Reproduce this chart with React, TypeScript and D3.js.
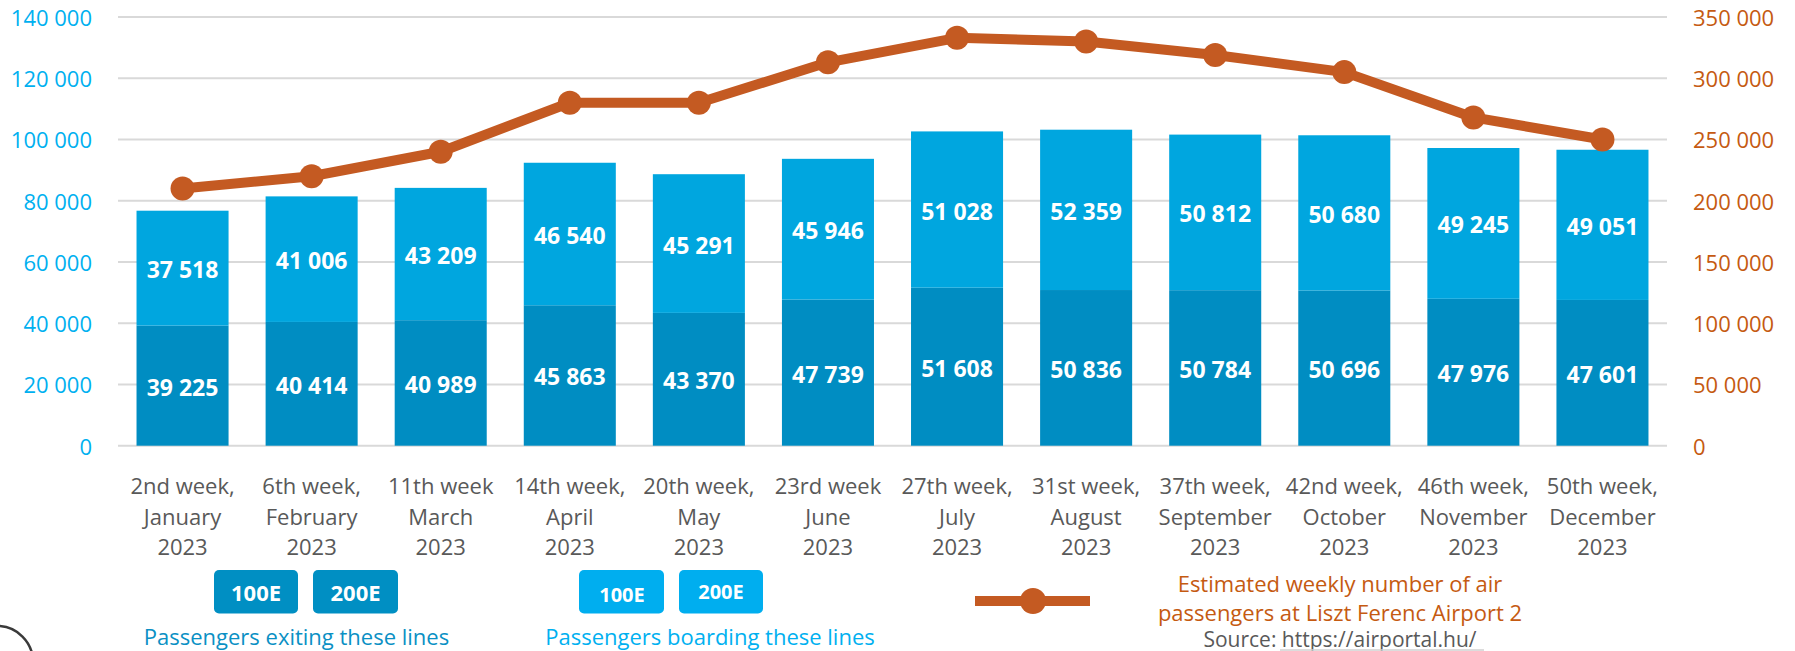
import React from "react";
import * as d3 from "d3";

const weekLabels = [
  ["2nd week,", "January", "2023"],
  ["6th week,", "February", "2023"],
  ["11th week", "March", "2023"],
  ["14th week,", "April", "2023"],
  ["20th week,", "May", "2023"],
  ["23rd week", "June", "2023"],
  ["27th week,", "July", "2023"],
  ["31st week,", "August", "2023"],
  ["37th week,", "September", "2023"],
  ["42nd week,", "October", "2023"],
  ["46th week,", "November", "2023"],
  ["50th week,", "December", "2023"],
];
const categories = weekLabels.map((l) => l[0] + " " + l[1]);
const exiting = [39225, 40414, 40989, 45863, 43370, 47739, 51608, 50836, 50784, 50696, 47976, 47601];
const boarding = [37518, 41006, 43209, 46540, 45291, 45946, 51028, 52359, 50812, 50680, 49245, 49051];
const airport = [210000, 220000, 240000, 280000, 280000, 313000, 333000, 330000, 319000, 305000, 268000, 250000];
const leftTicks = [0, 20000, 40000, 60000, 80000, 100000, 120000, 140000];
const rightTicks = [0, 50000, 100000, 150000, 200000, 250000, 300000, 350000];

const W = 1795;
const H = 651;
const FONT = "'Open Sans', 'Noto Sans', sans-serif";
const fmt = (v: number) => d3.format(",")(v).replace(/,/g, " ");

const C_EXIT = "#008DC2";
const C_BOARD = "#00A6DF";
const C_LINE = "#C45A22";
const C_LEFT = "#00B0F0";
const C_RIGHT = "#C55A11";
const C_GRAY = "#595959";

export default function App() {
  const plotL = 118, plotR = 1667, plotT = 17, plotB = 445.7;
  const x = d3.scaleBand<string>().domain(categories).range([plotL, plotR]).paddingInner(0.287).paddingOuter(0.1435);
  const y = d3.scaleLinear().domain([0, 140000]).range([plotB, plotT]);
  const y2 = d3.scaleLinear().domain([0, 350000]).range([plotB, plotT]);
  const bw = x.bandwidth();
  const cx = (i: number) => (x(categories[i]) as number) + bw / 2;

  const linePath = d3
    .line<number>()
    .x((_, i) => cx(i))
    .y((d) => y2(d))(airport) as string;

  return (
    <svg width={W} height={H} style={{ position: "absolute", left: 0, top: 0, background: "#fff" }} fontFamily={FONT}>
      {/* gridlines */}
      {leftTicks.map((t) => (
        <line key={t} x1={plotL} x2={plotR} y1={y(t)} y2={y(t)} stroke="#D9D9D9" strokeWidth={2} />
      ))}
      {/* left axis labels */}
      {leftTicks.map((t) => (
        <text key={"l" + t} x={92} y={y(t)} textAnchor="end" dominantBaseline="central" fontSize={22} fill={C_LEFT}>
          {fmt(t)}
        </text>
      ))}
      {/* right axis labels */}
      {rightTicks.map((t) => (
        <text key={"r" + t} x={1693} y={y2(t)} textAnchor="start" dominantBaseline="central" fontSize={22} fill={C_RIGHT}>
          {fmt(t)}
        </text>
      ))}
      {/* bars */}
      {categories.map((c, i) => {
        const x0 = x(c) as number;
        const yE = y(exiting[i]);
        const yB = y(exiting[i] + boarding[i]);
        return (
          <g key={c}>
            <rect x={x0} y={yE} width={bw} height={plotB - yE} fill={C_EXIT} />
            <rect x={x0} y={yB} width={bw} height={yE - yB} fill={C_BOARD} />
            <text x={x0 + bw / 2} y={(yE + plotB) / 2 + 1} textAnchor="middle" dominantBaseline="central" fontSize={23} fontWeight="bold" fill="#fff">
              {fmt(exiting[i])}
            </text>
            <text x={x0 + bw / 2} y={(yB + yE) / 2 + 1} textAnchor="middle" dominantBaseline="central" fontSize={23} fontWeight="bold" fill="#fff">
              {fmt(boarding[i])}
            </text>
          </g>
        );
      })}
      {/* x labels */}
      {weekLabels.map((lines, i) => (
        <text key={"x" + i} x={cx(i)} textAnchor="middle" fontSize={22} fill={C_GRAY}>
          {lines.map((ln, k) => (
            <tspan key={k} x={cx(i)} y={485 + k * 30.5} dominantBaseline="central">
              {ln}
            </tspan>
          ))}
        </text>
      ))}
      {/* line */}
      <path d={linePath} fill="none" stroke={C_LINE} strokeWidth={10} strokeLinejoin="round" />
      {airport.map((v, i) => (
        <circle key={"p" + i} cx={cx(i)} cy={y2(v)} r={12} fill={C_LINE} />
      ))}

      {/* legend: exiting */}
      <rect x={214} y={570} width={84} height={43.5} rx={5} fill="#008FC3" />
      <rect x={313} y={570} width={85} height={43.5} rx={5} fill="#008FC3" />
      <text x={256} y={592} textAnchor="middle" dominantBaseline="central" fontSize={22} fontWeight="bold" fill="#fff">100E</text>
      <text x={355.5} y={592} textAnchor="middle" dominantBaseline="central" fontSize={22} fontWeight="bold" fill="#fff">200E</text>
      <text x={296.5} y={636} textAnchor="middle" dominantBaseline="central" fontSize={22} fill="#0A90C4">
        Passengers exiting these lines
      </text>

      {/* legend: boarding */}
      <rect x={579} y={570} width={85} height={43.5} rx={5} fill="#00AEEF" />
      <rect x={679} y={570} width={84} height={43.5} rx={5} fill="#00AEEF" />
      <text x={622} y={594} textAnchor="middle" dominantBaseline="central" fontSize={20} fontWeight="bold" fill="#fff">100E</text>
      <text x={721} y={591} textAnchor="middle" dominantBaseline="central" fontSize={20} fontWeight="bold" fill="#fff">200E</text>
      <text x={710} y={636} textAnchor="middle" dominantBaseline="central" fontSize={22} fill={C_LEFT}>
        Passengers boarding these lines
      </text>

      {/* legend: line */}
      <line x1={975} x2={1090} y1={601} y2={601} stroke={C_LINE} strokeWidth={10} />
      <circle cx={1033} cy={601} r={13} fill={C_LINE} />
      <text x={1340} y={583} textAnchor="middle" dominantBaseline="central" fontSize={22} fill={C_RIGHT}>
        Estimated weekly number of air
      </text>
      <text x={1340} y={612} textAnchor="middle" dominantBaseline="central" fontSize={22} fill={C_RIGHT}>
        passengers at Liszt Ferenc Airport 2
      </text>
      <text x={1340} y={638.5} textAnchor="middle" dominantBaseline="central" fontSize={21} fill={C_GRAY}>
        Source: https://airportal.hu/
      </text>
      <line x1={1280} x2={1484} y1={650} y2={650} stroke="#D0D0D0" strokeWidth={1.5} />

      {/* corner artifact */}
      <circle cx={-3} cy={662} r={36} fill="none" stroke="#3a3a3a" strokeWidth={2.5} />
    </svg>
  );
}
